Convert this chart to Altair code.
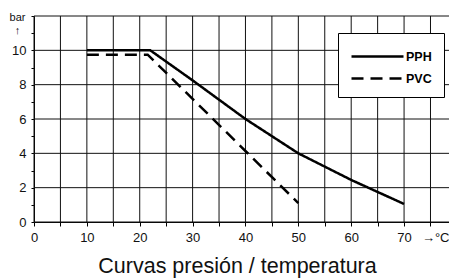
import altair as alt
import pandas as pd

# Data
temp_pph = [10, 22, 30, 40, 50, 60, 70]
bar_pph = [10.0, 10.0, 8.25, 6.0, 4.0, 2.45, 1.05]
temp_pvc = [10, 21.5, 50]
bar_pvc = [9.75, 9.75, 1.1]
series = ["PPH", "PVC"]
x_ticks = list(range(0, 80, 5))
y_ticks = list(range(0, 13))
y_grid = list(range(0, 13, 2))

rows = [{"t": t, "p": p, "s": "PPH", "o": i} for i, (t, p) in enumerate(zip(temp_pph, bar_pph))]
rows += [{"t": t, "p": p, "s": "PVC", "o": i} for i, (t, p) in enumerate(zip(temp_pvc, bar_pvc))]
df = pd.DataFrame(rows)

FONT = "Liberation Sans"
GRID = "#111111"
X_MAX = 78.5

x_axis = alt.Axis(
    values=x_ticks + [X_MAX],
    grid=False,
    title=None,
    labelExpr=f"datum.value === {X_MAX} ? '\u2192\u00b0C' : (datum.value % 10 === 0 ? datum.label : '')",
    labelAlign={"condition": {"test": f"datum.value === {X_MAX}", "value": "right"}, "value": "center"},
    tickOpacity={"condition": {"test": f"datum.value === {X_MAX}", "value": 0}, "value": 1},
    labelFlush=False,
    labelOverlap=False,
    labelBound=False,
    tickSize=4,
    labelPadding=5,
)

y_axis = alt.Axis(
    values=y_ticks,
    grid=False,
    labelExpr="(datum.value % 2 === 0 && datum.value <= 10) ? datum.label : ''",
    labelOverlap=False,
    labelFlush=False,
    tickSize=3,
    labelPadding=5,
    title=["bar", "\u2191"],
    titleAngle=0,
    titleAlign="center",
    titleBaseline="alphabetic",
    titleX=-17,
    titleY=4,
    titleFontSize=11,
    titleFontWeight="normal",
    titleLineHeight=13,
)

x_scale = alt.Scale(domain=[0, X_MAX], nice=False)
y_scale = alt.Scale(domain=[0, 12], nice=False)

vgrid = (
    alt.Chart(pd.DataFrame({"t": x_ticks}))
    .mark_rule(color=GRID, strokeWidth=1)
    .encode(x=alt.X("t:Q", scale=x_scale, axis=x_axis))
)
hgrid = (
    alt.Chart(pd.DataFrame({"p": y_grid}))
    .mark_rule(color=GRID, strokeWidth=1)
    .encode(y=alt.Y("p:Q", scale=y_scale, axis=y_axis))
)

lines = (
    alt.Chart(df)
    .mark_line(color="black", strokeWidth=2.5, strokeCap="butt")
    .encode(
        x=alt.X("t:Q", scale=x_scale, axis=x_axis),
        y=alt.Y("p:Q", scale=y_scale, axis=y_axis),
        order="o:Q",
        strokeDash=alt.StrokeDash(
            "s:N",
            scale=alt.Scale(domain=series, range=[[1, 0], [12, 7]]),
            legend=alt.Legend(
                orient="none",
                legendX=304,
                legendY=17,
                title=None,
                symbolType="M-1,0H4.2",
                symbolSize=400,
                symbolStrokeWidth=2.5,
                symbolStrokeColor="black",
                symbolFillColor="transparent",
                labelFont=FONT,
                labelFontSize=12.5,
                labelFontWeight="bold",
                labelColor="black",
                labelOffset=33,
                strokeColor="black",
                fillColor="white",
                padding=12,
                rowPadding=4,
            ),
        ),
    )
)

chart = (
    alt.layer(vgrid, hgrid, lines)
    .properties(
        width=415,
        height=206,
        autosize=alt.AutoSizeParams(type="none"),
        padding={"left": 26, "top": 8, "right": 0, "bottom": 57},
        title=alt.TitleParams(
            "Curvas presión / temperatura",
            orient="bottom",
            anchor="middle",
            fontSize=21.5,
            fontWeight="normal",
            font=FONT,
            color="#111",
            offset=12,
            dx=-4,
        ),
    )
    .configure_view(stroke=None)
    .configure_axis(
        domainColor="black",
        domainWidth=1,
        tickColor="black",
        tickWidth=1,
        labelFont=FONT,
        labelFontSize=13,
        labelColor="#111",
        titleFont=FONT,
        titleColor="#111",
    )
)

chart.save("out.html", embed_options={"renderer": "svg", "actions": False})
